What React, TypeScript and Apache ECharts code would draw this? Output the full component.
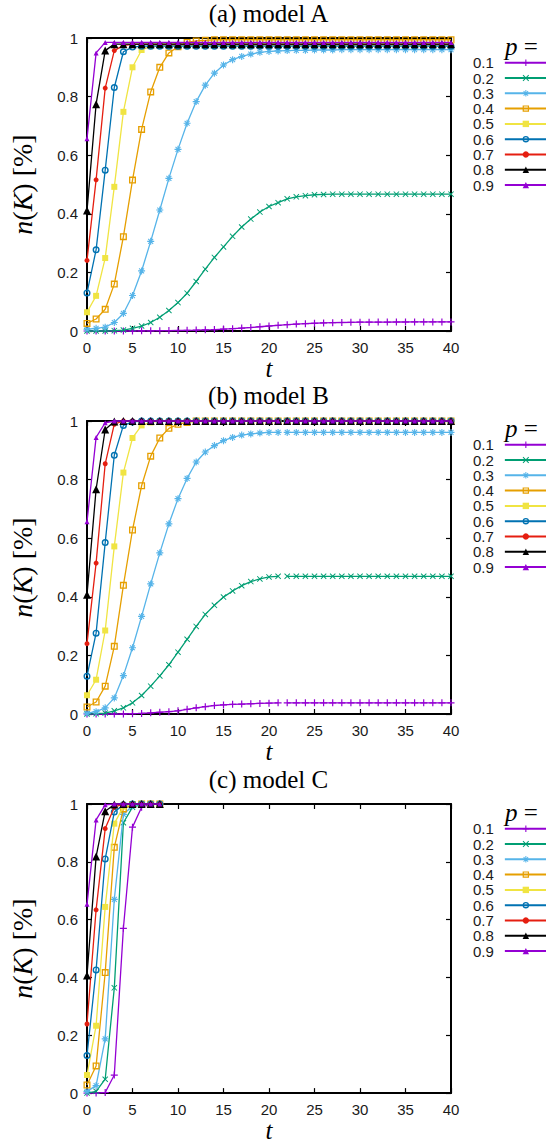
import React, { useEffect, useRef } from "react";
import * as echarts from "echarts";

// ---------- data ----------
const tLong = [0, 1, 2, 3, 4, 5, 6, 7, 8, 9, 10, 11, 12, 13, 14, 15, 16, 17, 18, 19, 20,
  21, 22, 23, 24, 25, 26, 27, 28, 29, 30, 31, 32, 33, 34, 35, 36, 37, 38, 39, 40];
const tShort = [0, 1, 2, 3, 4, 5, 6, 7, 8];

const pLabels = ["0.1", "0.2", "0.3", "0.4", "0.5", "0.6", "0.7", "0.8", "0.9"];
const panelTitles = ["(a) model A", "(b) model B", "(c) model C"];

// model A
const a1 = [0, 0, 0, 0, 0, 0, 0.0005, 0.0007, 0.001, 0.0013,
  0.0017, 0.0022, 0.003, 0.004, 0.005, 0.0065, 0.008, 0.01, 0.012, 0.0145,
  0.017, 0.0195, 0.0215, 0.0235, 0.025, 0.0265, 0.0275, 0.0285, 0.029, 0.0295,
  0.03, 0.0302, 0.0304, 0.0306, 0.0307, 0.0308, 0.0309, 0.031, 0.031, 0.031,
  0.031];
const a2 = [0, 0, 0, 0.001, 0.003, 0.009, 0.017, 0.029, 0.047, 0.07,
  0.097, 0.129, 0.169, 0.211, 0.251, 0.287, 0.323, 0.355, 0.382, 0.406,
  0.425, 0.438, 0.451, 0.458, 0.462, 0.465, 0.466, 0.467, 0.467, 0.467,
  0.467, 0.467, 0.467, 0.467, 0.467, 0.467, 0.467, 0.467, 0.467, 0.467,
  0.467];
const a3 = [0.006, 0.009, 0.013, 0.029, 0.06, 0.121, 0.205, 0.306, 0.413, 0.521,
  0.62, 0.709, 0.783, 0.839, 0.88, 0.908, 0.926, 0.937, 0.945, 0.951,
  0.954, 0.956, 0.957, 0.958, 0.958, 0.959, 0.959, 0.959, 0.96, 0.96,
  0.96, 0.96, 0.96, 0.96, 0.96, 0.96, 0.96, 0.96, 0.96, 0.96,
  0.96];
const a4 = [0.026, 0.041, 0.074, 0.16, 0.322, 0.515, 0.688, 0.816, 0.9, 0.949,
  0.97, 0.985, 0.99, 0.992, 0.994, 0.994, 0.994, 0.994, 0.994, 0.994,
  0.994, 0.994, 0.994, 0.994, 0.994, 0.994, 0.994, 0.994, 0.994, 0.994,
  0.994, 0.994, 0.994, 0.994, 0.994, 0.994, 0.994, 0.994, 0.994, 0.994,
  0.994];
const a5 = [0.064, 0.12, 0.249, 0.492, 0.748, 0.9, 0.959, 0.972, 0.975, 0.975,
  0.975, 0.975, 0.975, 0.975, 0.975, 0.975, 0.975, 0.975, 0.975, 0.975,
  0.975, 0.975, 0.975, 0.975, 0.975, 0.975, 0.975, 0.975, 0.975, 0.975,
  0.975, 0.975, 0.975, 0.975, 0.975, 0.975, 0.975, 0.975, 0.975, 0.975,
  0.975];
const a6 = [0.13, 0.277, 0.549, 0.831, 0.953, 0.969, 0.972, 0.972, 0.972, 0.972,
  0.972, 0.972, 0.972, 0.972, 0.972, 0.972, 0.972, 0.972, 0.972, 0.972,
  0.972, 0.972, 0.972, 0.972, 0.972, 0.972, 0.972, 0.972, 0.972, 0.972,
  0.972, 0.972, 0.972, 0.972, 0.972, 0.972, 0.972, 0.972, 0.972, 0.972,
  0.972];
const a7 = [0.241, 0.516, 0.829, 0.957, 0.975, 0.978, 0.978, 0.978, 0.978, 0.978,
  0.978, 0.978, 0.978, 0.978, 0.978, 0.978, 0.978, 0.978, 0.978, 0.978,
  0.978, 0.978, 0.978, 0.978, 0.978, 0.978, 0.978, 0.978, 0.978, 0.978,
  0.978, 0.978, 0.978, 0.978, 0.978, 0.978, 0.978, 0.978, 0.978, 0.978,
  0.978];
const a8 = [0.411, 0.774, 0.957, 0.979, 0.979, 0.979, 0.979, 0.979, 0.979, 0.979,
  0.979, 0.979, 0.979, 0.979, 0.979, 0.979, 0.979, 0.979, 0.979, 0.979,
  0.979, 0.979, 0.979, 0.979, 0.979, 0.979, 0.979, 0.979, 0.979, 0.979,
  0.979, 0.979, 0.979, 0.979, 0.979, 0.979, 0.979, 0.979, 0.979, 0.979,
  0.979];
const a9 = [0.656, 0.949, 0.985, 0.985, 0.985, 0.985, 0.985, 0.985, 0.985, 0.985,
  0.985, 0.985, 0.985, 0.985, 0.985, 0.985, 0.985, 0.985, 0.985, 0.985,
  0.985, 0.985, 0.985, 0.985, 0.985, 0.985, 0.985, 0.985, 0.985, 0.985,
  0.985, 0.985, 0.985, 0.985, 0.985, 0.985, 0.985, 0.985, 0.985, 0.985,
  0.985];

// model B
const b1 = [0, 0, 0, 0, 0, 0.001, 0.002, 0.004, 0.006, 0.008,
  0.011, 0.016, 0.021, 0.025, 0.029, 0.031, 0.033, 0.034, 0.035, 0.036,
  0.037, 0.038, 0.038, 0.038, 0.038, 0.038, 0.038, 0.038, 0.038, 0.038,
  0.038, 0.038, 0.038, 0.038, 0.038, 0.038, 0.038, 0.038, 0.038, 0.038,
  0.038];
const b2 = [0, 0.001, 0.003, 0.011, 0.021, 0.038, 0.063, 0.095, 0.13, 0.168,
  0.211, 0.255, 0.299, 0.34, 0.371, 0.399, 0.42, 0.438, 0.452, 0.461,
  0.468, 0.47, 0.47, 0.47, 0.47, 0.47, 0.47, 0.47, 0.47, 0.47,
  0.47, 0.47, 0.47, 0.47, 0.47, 0.47, 0.47, 0.47, 0.47, 0.47,
  0.47];
const b3 = [0.003, 0.008, 0.021, 0.055, 0.131, 0.226, 0.333, 0.444, 0.55, 0.649,
  0.735, 0.804, 0.86, 0.894, 0.916, 0.933, 0.944, 0.952, 0.956, 0.959,
  0.961, 0.961, 0.961, 0.961, 0.961, 0.961, 0.961, 0.961, 0.961, 0.961,
  0.961, 0.961, 0.961, 0.961, 0.961, 0.961, 0.961, 0.961, 0.961, 0.961,
  0.961];
const b4 = [0.024, 0.041, 0.095, 0.231, 0.439, 0.628, 0.779, 0.88, 0.942, 0.975,
  0.989, 0.995, 1, 1, 1, 1, 1, 1, 1, 1,
  1, 1, 1, 1, 1, 1, 1, 1, 1, 1,
  1, 1, 1, 1, 1, 1, 1, 1, 1, 1,
  1];
const b5 = [0.064, 0.117, 0.285, 0.572, 0.824, 0.942, 0.985, 0.995, 1, 1,
  1, 1, 1, 1, 1, 1, 1, 1, 1, 1,
  1, 1, 1, 1, 1, 1, 1, 1, 1, 1,
  1, 1, 1, 1, 1, 1, 1, 1, 1, 1,
  1];
const b6 = [0.129, 0.276, 0.585, 0.883, 0.985, 0.997, 1, 1, 1, 1,
  1, 1, 1, 1, 1, 1, 1, 1, 1, 1,
  1, 1, 1, 1, 1, 1, 1, 1, 1, 1,
  1, 1, 1, 1, 1, 1, 1, 1, 1, 1,
  1];
const b7 = [0.24, 0.515, 0.854, 0.989, 1, 1, 1, 1, 1, 1,
  1, 1, 1, 1, 1, 1, 1, 1, 1, 1,
  1, 1, 1, 1, 1, 1, 1, 1, 1, 1,
  1, 1, 1, 1, 1, 1, 1, 1, 1, 1,
  1];
const b8 = [0.407, 0.767, 0.971, 0.998, 1, 1, 1, 1, 1, 1,
  1, 1, 1, 1, 1, 1, 1, 1, 1, 1,
  1, 1, 1, 1, 1, 1, 1, 1, 1, 1,
  1, 1, 1, 1, 1, 1, 1, 1, 1, 1,
  1];
const b9 = [0.656, 0.944, 0.994, 1, 1, 1, 1, 1, 1, 1,
  1, 1, 1, 1, 1, 1, 1, 1, 1, 1,
  1, 1, 1, 1, 1, 1, 1, 1, 1, 1,
  1, 1, 1, 1, 1, 1, 1, 1, 1, 1,
  1];
const bBreakAfter = 21; // the model B curves are interrupted between t=21 and t=22

// model C
const c1 = [0, 0, 0.002, 0.0625, 0.57, 0.92, 0.989, 0.999, 1];
const c2 = [0, 0.006, 0.048, 0.364, 0.935, 0.989, 0.998, 1, 1];
const c3 = [0.006, 0.026, 0.1875, 0.67, 0.964, 0.994, 1, 1, 1];
const c4 = [0.028, 0.094, 0.417, 0.85, 0.983, 0.998, 1, 1, 1];
const c5 = [0.0625, 0.233, 0.644, 0.932, 0.991, 1, 1, 1, 1];
const c6 = [0.13, 0.426, 0.81, 0.972, 0.997, 1, 1, 1, 1];
const c7 = [0.239, 0.634, 0.915, 0.989, 1, 1, 1, 1, 1];
const c8 = [0.407, 0.818, 0.975, 0.998, 1, 1, 1, 1, 1];
const c9 = [0.653, 0.945, 0.997, 1, 1, 1, 1, 1, 1];

// ---------- styles ----------
const FONT_SANS = "'Liberation Sans', Arial, Helvetica, sans-serif";
const FONT_SERIF = "'Liberation Serif', 'Times New Roman', Times, serif";

const colors = ["#9400d3", "#009e73", "#56b4e9", "#e69f00", "#f0e442", "#0072b2", "#e51e10", "#000000", "#9400d3"];

const PLUS = "path://M-0.17,-1H0.17V-0.17H1V0.17H0.17V1H-0.17V0.17H-1V-0.17H-0.17Z";
const CROSS = "path://M-0.99,-0.77L-0.77,-0.99L0.99,0.77L0.77,0.99Z M-0.99,0.77L0.77,-0.99L0.99,-0.77L-0.77,0.99Z";
const STAR = "path://M-0.16,-1H0.16V-0.16H1V0.16H0.16V1H-0.16V0.16H-1V-0.16H-0.16Z M-0.81,-0.6L-0.6,-0.81L0.81,0.6L0.6,0.81Z M-0.81,0.6L0.6,-0.81L0.81,-0.6L-0.6,0.81Z";
const OPEN_SQUARE = "path://M-1,-1H1V1H-1Z M-0.62,-0.62V0.62H0.62V-0.62Z";
const OPEN_CIRCLE = "path://M-1,0A1,1,0,1,1,1,0A1,1,0,1,1,-1,0Z M-0.6,0A0.6,0.6,0,1,0,0.6,0A0.6,0.6,0,1,0,-0.6,0Z";

const markers = [
  { symbol: PLUS, size: 7 },
  { symbol: CROSS, size: 6 },
  { symbol: STAR, size: 7 },
  { symbol: OPEN_SQUARE, size: 7 },
  { symbol: "rect", size: 6 },
  { symbol: OPEN_CIRCLE, size: 7 },
  { symbol: "circle", size: 5 },
  { symbol: "triangle", size: 8 },
  { symbol: "triangle", size: 5 },
];

const gridTops = [38, 421, 804];
const gridHeight = 293;
const gridLeft = 86;
const gridWidth = 365;
const blockOffsets = [0, 382, 766];

const panels = [
  { times: tLong, values: [a1, a2, a3, a4, a5, a6, a7, a8, a9], breakAfter: null as number | null },
  { times: tLong, values: [b1, b2, b3, b4, b5, b6, b7, b8, b9], breakAfter: bBreakAfter as number | null },
  { times: tShort, values: [c1, c2, c3, c4, c5, c6, c7, c8, c9], breakAfter: null as number | null },
];

function makeData(times: number[], vals: number[], breakAfter: number | null) {
  const out: any[] = [];
  vals.forEach((v, i) => {
    out.push([times[i], v]);
    if (breakAfter !== null && times[i] === breakAfter) out.push([breakAfter + 0.5, "-"]);
  });
  return out;
}

function buildOption() {
  const grid: any[] = [];
  const xAxis: any[] = [];
  const yAxis: any[] = [];
  const series: any[] = [];
  const title: any[] = [];
  const legend: any[] = [];

  const axisLine = { show: true, onZero: false, lineStyle: { color: "#000", width: 2 } };
  const axisTick = { show: true, inside: true, length: 5, lineStyle: { color: "#000", width: 1.2 } };
  const labelStyle = { fontFamily: FONT_SANS, fontSize: 15, color: "#1a1a1a", margin: 9 };

  panels.forEach((panel, g) => {
    grid.push({ left: gridLeft, top: gridTops[g], width: gridWidth, height: gridHeight, containLabel: false });

    xAxis.push({
      type: "value", gridIndex: g, position: "bottom", min: 0, max: 40, interval: 5,
      axisLine, axisTick, splitLine: { show: false },
      axisLabel: { ...labelStyle },
      name: "t", nameLocation: "middle", nameGap: 23,
      nameTextStyle: { fontFamily: FONT_SERIF, fontStyle: "italic", fontSize: 25, color: "#000" },
    });
    xAxis.push({
      type: "value", gridIndex: g, position: "top", min: 0, max: 40, interval: 5,
      axisLine, axisTick, splitLine: { show: false }, axisLabel: { show: false },
    });
    yAxis.push({
      type: "value", gridIndex: g, position: "left", min: 0, max: 1, interval: 0.2,
      axisLine, axisTick, splitLine: { show: false },
      axisLabel: { ...labelStyle },
      name: "{i|n}({i|K}) [%]", nameLocation: "middle", nameGap: 51, nameRotate: 90,
      nameTextStyle: {
        fontFamily: FONT_SERIF, fontSize: 28, color: "#000",
        rich: { i: { fontFamily: FONT_SERIF, fontStyle: "italic", fontSize: 28, color: "#000" } },
      },
    });
    yAxis.push({
      type: "value", gridIndex: g, position: "right", min: 0, max: 1, interval: 0.2,
      axisLine, axisTick, splitLine: { show: false }, axisLabel: { show: false },
    });

    panel.values.forEach((vals, k) => {
      series.push({
        type: "line",
        name: pLabels[k],
        xAxisIndex: 2 * g,
        yAxisIndex: 2 * g,
        data: makeData(panel.times, vals, panel.breakAfter),
        symbol: markers[k].symbol,
        symbolSize: markers[k].size,
        showSymbol: true,
        clip: false,
        connectNulls: false,
        lineStyle: { color: colors[k], width: 1.3 },
        itemStyle: { color: colors[k] },
        emphasis: { disabled: true },
        z: 3 + k,
      });
    });

    title.push({
      text: panelTitles[g], left: 268.5, top: 1 + blockOffsets[g], textAlign: "center", padding: 0,
      textStyle: { fontFamily: FONT_SERIF, fontSize: 25, fontWeight: "normal", color: "#000" },
    });
    title.push({
      text: "{i|p} =", left: 505, top: 33.5 + blockOffsets[g], padding: 0,
      textStyle: {
        fontFamily: FONT_SERIF, fontSize: 25, fontWeight: "normal", color: "#000",
        rich: { i: { fontFamily: FONT_SERIF, fontStyle: "italic", fontSize: 25, color: "#000" } },
      },
    });

    legend.push({
      orient: "vertical", left: 473, top: 55.2 + blockOffsets[g], padding: 0,
      align: "right", itemWidth: 42, itemHeight: 8, itemGap: 0.3,
      selectedMode: false, data: pLabels,
      textStyle: { fontFamily: FONT_SANS, fontSize: 15, color: "#1a1a1a", lineHeight: 15, padding: [0, 6, 0, 0] },
    });
  });

  return {
    animation: false,
    backgroundColor: "#fff",
    textStyle: { fontFamily: FONT_SANS },
    title, legend, grid, xAxis, yAxis, series,
  };
}

export default function App() {
  const ref = useRef<HTMLDivElement>(null);
  useEffect(() => {
    if (!ref.current) return;
    const chart = echarts.init(ref.current, null, { renderer: "svg" });
    chart.setOption(buildOption() as any);
    return () => chart.dispose();
  }, []);
  return <div ref={ref} style={{ position: "absolute", left: 0, top: 0, width: 546, height: 1144 }} />;
}
